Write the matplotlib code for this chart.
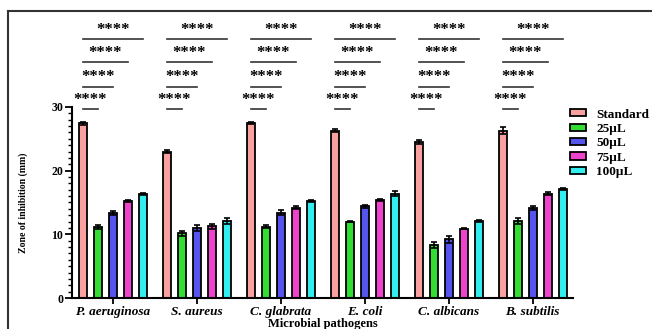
import matplotlib
matplotlib.use("Agg")
import matplotlib.pyplot as plt
from matplotlib.patches import Patch
from matplotlib.lines import Line2D
from matplotlib.ticker import MultipleLocator
import numpy as np

plt.rcParams['font.family'] = ['Liberation Serif', 'DejaVu Serif']

pathogens = ["P. aeruginosa", "S. aureus", "C. glabrata", "E. coli", "C. albicans", "B. subtilis"]
series = ["Standard", "25µL", "50µL", "75µL", "100µL"]
colors = ["#F9A0A0", "#33DD33", "#5555EE", "#EE44CC", "#33EEEE"]

# rows: pathogens, cols: series
means = [
    [27.4, 11.2, 13.3, 15.2, 16.3],
    [23.0, 10.2, 11.0, 11.3, 12.1],
    [27.5, 11.2, 13.4, 14.2, 15.2],
    [26.3, 12.0, 14.4, 15.4, 16.4],
    [24.5, 8.3, 9.2, 10.9, 12.1],
    [26.3, 12.1, 14.2, 16.4, 17.1],
]
errors = [
    [0.2, 0.3, 0.3, 0.2, 0.2],
    [0.3, 0.4, 0.5, 0.4, 0.4],
    [0.2, 0.2, 0.4, 0.2, 0.2],
    [0.2, 0.1, 0.2, 0.2, 0.4],
    [0.3, 0.5, 0.5, 0.1, 0.1],
    [0.5, 0.5, 0.3, 0.2, 0.2],
]
stars = "****"

fig = plt.figure(figsize=(6.52, 3.29), dpi=100)
ax = fig.add_axes([0.110, 0.094, 0.769, 0.581])

x = np.arange(len(pathogens))
step = 0.179
width = 0.095
means = np.array(means)
errors = np.array(errors)

for j, name in enumerate(series):
    xs = x + (j - 2) * step
    ax.bar(xs, means[:, j], width=width, color=colors[j], edgecolor="black",
           linewidth=1.3, label=name, zorder=2)
    ax.errorbar(xs, means[:, j], yerr=errors[:, j], fmt="none", ecolor="black",
                elinewidth=1.2, capsize=2, capthick=1.2, zorder=3)

# significance brackets: Standard vs each concentration
levels = [29.6, 33.2, 37.0, 40.6]
for i in range(len(pathogens)):
    x0 = x[i] - 2 * step
    for k, lev in enumerate(levels):
        x1 = x[i] + (k - 1) * step
        ax.plot([x0, x1], [lev, lev], color="#333333", lw=1.2, clip_on=False)
        ax.text((x0 + x1) / 2, lev + 0.2, stars, ha="center", va="bottom",
                fontsize=12, fontweight="bold", clip_on=False)

ax.set_xlim(-0.49, 5.48)
ax.set_ylim(0, 30)
ax.spines["top"].set_visible(False)
ax.spines["right"].set_visible(False)
for s in ["left", "bottom"]:
    ax.spines[s].set_linewidth(1.5)
ax.yaxis.set_major_locator(MultipleLocator(10))
ax.yaxis.set_minor_locator(MultipleLocator(1))
ax.tick_params(axis="y", which="major", length=5, width=1.3, labelsize=8.5, pad=1)
ax.tick_params(axis="y", which="minor", length=3, width=1.0)
ax.tick_params(axis="x", length=4, width=1.3, pad=1.5)
ax.set_xticks(x)
ax.set_xticklabels(pathogens, fontsize=9.5, fontweight="bold", style="italic")
for lab in ax.get_yticklabels():
    lab.set_fontweight("bold")

ax.set_ylabel("Zone of inhibition (mm)", fontsize=7, fontweight="bold", labelpad=17)
ax.set_xlabel("Microbial pathogens", fontsize=9, fontweight="bold", labelpad=0)

handles = [Patch(facecolor=c, edgecolor="black", linewidth=1.3) for c in colors]
fig.legend(handles, series, loc="upper left", bbox_to_anchor=(0.874, 0.670),
           frameon=False, prop={"weight": "bold", "size": 9.5}, handlelength=1.25,
           handleheight=0.45, handletextpad=0.75, labelspacing=0.18,
           borderpad=0, borderaxespad=0)

# outer frame of the original figure
fig.add_artist(Line2D([0.012, 1.0], [0.967, 0.967], color="#333333", lw=1.5))
fig.add_artist(Line2D([0.012, 0.012], [0.0, 0.967], color="#333333", lw=1.5))

fig.savefig("out.png", dpi=100)
